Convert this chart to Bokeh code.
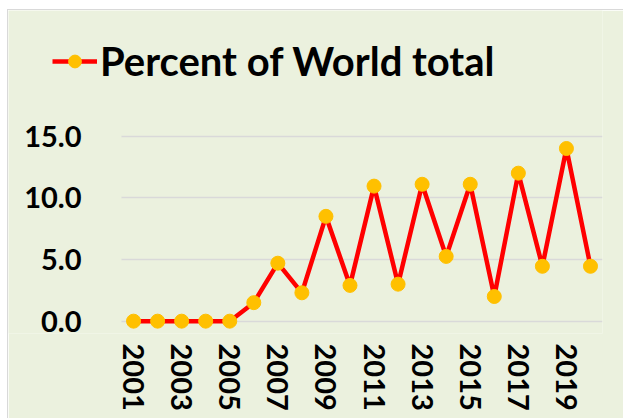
from bokeh.plotting import figure
from bokeh.models import (Range1d, FixedTicker, NumeralTickFormatter, Legend,
                          LegendItem, Spacer)
from bokeh.layouts import row, column
from bokeh.embed import file_html
from bokeh.resources import INLINE

# Share of the world total, by year
years = [2001, 2002, 2003, 2004, 2005, 2006, 2007, 2008, 2009, 2010,
         2011, 2012, 2013, 2014, 2015, 2016, 2017, 2018, 2019, 2020]
percent = [0.0, 0.0, 0.0, 0.0, 0.0, 1.5, 4.7, 2.3, 8.5, 2.9,
           10.95, 3.0, 11.1, 5.25, 11.1, 2.0, 12.0, 4.45, 14.0, 4.45]

x_ticks = [2001, 2003, 2005, 2007, 2009, 2011, 2013, 2015, 2017, 2019]
x_tick_labels = ["2001", "2003", "2005", "2007", "2009",
                 "2011", "2013", "2015", "2017", "2019"]
y_ticks = [0, 5, 10, 15]
series_name = "Percent of World total"

BG = "#EBF1DE"
FONT = "Lato"
X_START, X_END = 2000.5, 2020.5

# the frame reaches the left edge so the legend key can sit above the y labels
p = figure(width=616, height=409, output_backend="svg", toolbar_location=None,
           title=None,
           x_range=Range1d(1995.80, X_END), y_range=Range1d(-1.0, 25.19),
           min_border_left=0, min_border_right=22,
           min_border_top=0, min_border_bottom=86,
           background_fill_color=BG, border_fill_color=BG,
           outline_line_color=None)
p.styles = {"border-left": "1px solid #d9d9d9", "border-top": "1px solid #d9d9d9"}

line_r = p.line(years, percent, line_color="#FF0000", line_width=4.5)
dot_r = p.scatter(years, percent, size=14, fill_color="#FFC000",
                  line_color="#FFC000")

# axes
p.xaxis.ticker = FixedTicker(ticks=x_ticks)
p.xaxis.major_label_overrides = dict(zip(x_ticks, x_tick_labels))
p.xaxis.major_label_orientation = "vertical"
p.yaxis.ticker = FixedTicker(ticks=y_ticks)
p.yaxis.formatter = NumeralTickFormatter(format="0.0")
p.yaxis.fixed_location = X_START
for ax in (p.xaxis, p.yaxis):
    ax.axis_line_color = None
    ax.major_tick_line_color = None
    ax.minor_tick_line_color = None
    ax.major_label_text_font = FONT
    ax.major_label_text_font_style = "bold"
    ax.major_label_text_font_size = "29px"
    ax.major_label_text_color = "black"
p.xaxis.major_label_standoff = 4
p.yaxis.major_label_standoff = 34

# grid
p.xgrid.grid_line_color = None
p.ygrid.ticker = FixedTicker(ticks=y_ticks)
p.ygrid.cross_bounds = (X_START, X_END)
p.ygrid.grid_line_color = "#D9D9D9"
p.ygrid.grid_line_width = 1.5

legend = Legend(items=[LegendItem(label=series_name, renderers=[line_r, dot_r])],
                location=(44, 248), orientation="horizontal",
                glyph_width=45, glyph_height=32, label_standoff=3,
                padding=0, margin=0, border_line_color=None,
                background_fill_alpha=0,
                label_text_font=FONT, label_text_font_style="bold",
                label_text_font_size="40px", label_text_color="black")
p.add_layout(legend)

layout = column(Spacer(height=9),
                row(Spacer(width=7), p),
                )
open("out.html", "w").write(file_html(layout, INLINE))
